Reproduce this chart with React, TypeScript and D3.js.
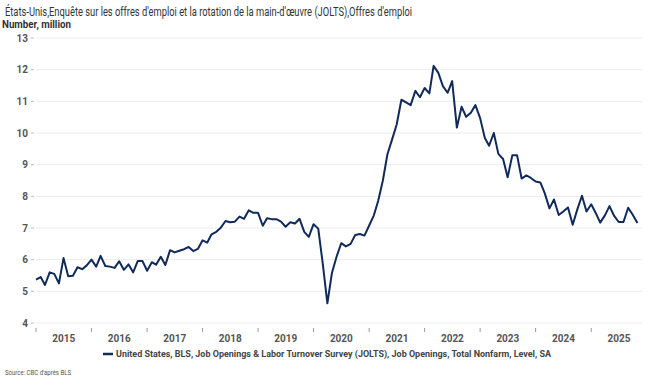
import * as d3 from 'd3'

// JOLTS job openings, millions, monthly
const y2015 = [5.37, 5.45, 5.2, 5.6, 5.55, 5.25, 6.05, 5.48, 5.49, 5.76, 5.7, 5.82]
const y2016 = [6.0, 5.78, 6.12, 5.8, 5.78, 5.74, 5.95, 5.68, 5.85, 5.6, 5.96, 5.96]
const y2017 = [5.65, 5.92, 5.84, 6.09, 5.83, 6.3, 6.23, 6.28, 6.33, 6.4, 6.27, 6.34]
const y2018 = [6.61, 6.54, 6.8, 6.88, 7.01, 7.22, 7.18, 7.2, 7.36, 7.29, 7.56, 7.48]
const y2019 = [7.48, 7.07, 7.31, 7.28, 7.28, 7.2, 7.04, 7.18, 7.14, 7.29, 6.88, 6.72]
const y2020 = [7.12, 6.98, 5.9, 4.62, 5.58, 6.1, 6.52, 6.42, 6.5, 6.78, 6.81, 6.76]
const y2021 = [7.08, 7.4, 7.85, 8.5, 9.33, 9.8, 10.27, 11.05, 10.97, 10.88, 11.33, 11.13]
const y2022 = [11.42, 11.25, 12.12, 11.9, 11.48, 11.27, 11.64, 10.17, 10.83, 10.51, 10.64, 10.88]
const y2023 = [10.47, 9.84, 9.6, 10.0, 9.34, 9.18, 8.6, 9.3, 9.3, 8.56, 8.66, 8.58]
const y2024 = [8.47, 8.44, 8.1, 7.62, 7.9, 7.41, 7.52, 7.65, 7.1, 7.58, 8.02, 7.52]
const y2025 = [7.75, 7.46, 7.17, 7.4, 7.69, 7.38, 7.19, 7.19, 7.64, 7.42, 7.16]

const openings = [...y2015, ...y2016, ...y2017, ...y2018, ...y2019, ...y2020, ...y2021, ...y2022, ...y2023, ...y2024, ...y2025]
const start = new Date(2015, 0, 1)
const series = openings.map((v, i) => ({ date: d3.timeMonth.offset(start, i), value: v }))

const years = [2015, 2016, 2017, 2018, 2019, 2020, 2021, 2022, 2023, 2024, 2025]
const yTicks = [4, 5, 6, 7, 8, 9, 10, 11, 12, 13]

const TITLE = "États-Unis,Enquête sur les offres d'emploi et la rotation de la main-d'œuvre (JOLTS),Offres d'emploi"
const LEGEND = 'United States, BLS, Job Openings & Labor Turnover Survey (JOLTS), Job Openings, Total Nonfarm, Level, SA'
const FONT = '"Roboto", "Noto Sans", sans-serif'
const NAVY = '#102a5a'

export default function App() {
  const width = 652
  const height = 385

  const x = d3.scaleTime().domain([start, new Date(2025, 11, 1)]).range([36, 642])
  const y = d3.scaleLinear().domain([4, 13]).range([323, 38])

  const line = d3
    .line<{ date: Date; value: number }>()
    .x((d) => x(d.date))
    .y((d) => y(d.value))

  return (
    <svg
      width={width}
      height={height}
      style={{ position: 'absolute', left: 0, top: 0, background: '#fff', fontFamily: FONT }}
    >
      {/* the original uses a condensed face, so squeeze the long strings */}
      <text x={5} y={16} fontSize={12.5} fill="#333" textLength={407} lengthAdjust="spacingAndGlyphs">
        {TITLE}
      </text>
      <text x={2} y={28} fontSize={10} fontWeight={700} fill="#333" textLength={69} lengthAdjust="spacingAndGlyphs">
        Number, million
      </text>

      {yTicks.map((t) => (
        <g key={t}>
          <line x1={36} x2={642} y1={y(t)} y2={y(t)} stroke="#ececec" strokeWidth={1} />
          <line x1={31} x2={34} y1={y(t)} y2={y(t)} stroke="#bbb" strokeWidth={1} />
          <text x={28} y={y(t) + 3.5} textAnchor="end" fontSize={10} fontWeight={700} fill="#555">
            {t}
          </text>
        </g>
      ))}

      {years.map((yr) => {
        const x0 = x(new Date(yr, 0, 1))
        const x1 = x(new Date(yr + 1, 0, 1))
        return (
          <g key={yr}>
            <line x1={x0} x2={x0} y1={328} y2={332} stroke="#999" strokeWidth={1} />
            <text x={(x0 + x1) / 2} y={342} textAnchor="middle" fontSize={10} fontWeight={700} fill="#555">
              {yr}
            </text>
          </g>
        )
      })}

      <path d={line(series) ?? ''} fill="none" stroke={NAVY} strokeWidth={2} strokeLinejoin="round" />

      <line x1={103} x2={113} y1={354} y2={354} stroke={NAVY} strokeWidth={2.5} />
      <text x={116} y={357} fontSize={9.5} fontWeight={700} fill="#444" textLength={435} lengthAdjust="spacingAndGlyphs">
        {LEGEND}
      </text>

      <text x={5} y={375} fontSize={8} fill="#555" textLength={66} lengthAdjust="spacingAndGlyphs">
        Source: CBC d'après BLS
      </text>
    </svg>
  )
}
